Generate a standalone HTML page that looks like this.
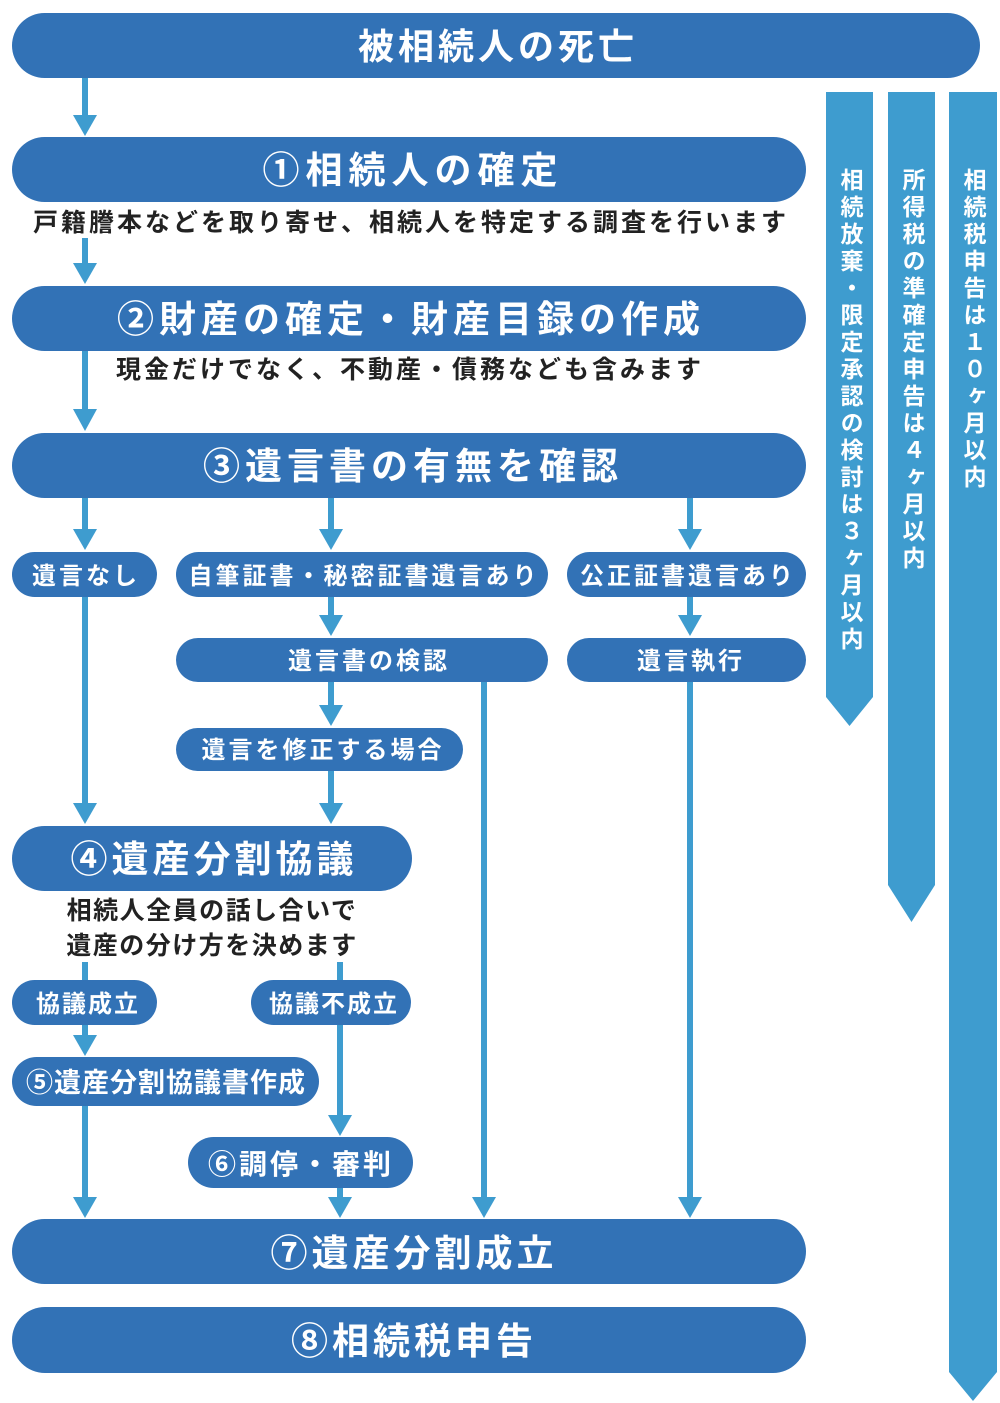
<!DOCTYPE html>
<html><head><meta charset="utf-8"><style>
html,body{margin:0;padding:0;background:#fff}
body{width:1000px;height:1403px;position:relative;overflow:hidden;font-family:"Liberation Sans","Noto Sans CJK JP",sans-serif}
svg{position:absolute;left:0;top:0}
.v{position:absolute;writing-mode:vertical-rl;color:#fff;font-weight:bold;font-size:23px;letter-spacing:4px;font-family:"Liberation Sans","Noto Sans CJK JP",sans-serif;width:48px;display:flex;align-items:center}
</style></head><body>
<svg width="1000" height="1403" viewBox="0 0 1000 1403" font-family="Liberation Sans, Noto Sans CJK JP, sans-serif" font-weight="bold">
<g fill="#3e9ccf">
<rect x="826" y="92" width="47" height="605"/><polygon points="826,697 873,697 849.5,726"/>
<rect x="888" y="92" width="47" height="793"/><polygon points="888,885 935,885 911.5,922"/>
<rect x="949" y="92" width="48" height="1280"/><polygon points="949,1372 997,1372 973,1401"/>
</g>
<g stroke="#3e9ccf" stroke-width="6">
<line x1="85" y1="78" x2="85" y2="118"/>
<line x1="85" y1="238" x2="85" y2="266"/>
<line x1="85" y1="351" x2="85" y2="412"/>
<line x1="85" y1="498" x2="85" y2="532"/>
<line x1="85" y1="597" x2="85" y2="806"/>
<line x1="85" y1="962" x2="85" y2="982"/>
<line x1="85" y1="1025" x2="85" y2="1038"/>
<line x1="85" y1="1106" x2="85" y2="1200"/>
<line x1="331" y1="498" x2="331" y2="532"/>
<line x1="331" y1="597" x2="331" y2="618"/>
<line x1="331" y1="682" x2="331" y2="708"/>
<line x1="331" y1="771" x2="331" y2="806"/>
<line x1="690" y1="498" x2="690" y2="532"/>
<line x1="690" y1="597" x2="690" y2="618"/>
<line x1="690" y1="682" x2="690" y2="1200"/>
<line x1="484" y1="682" x2="484" y2="1200"/>
<line x1="340" y1="962" x2="340" y2="982"/>
<line x1="340" y1="1025" x2="340" y2="1118"/>
<line x1="340" y1="1188" x2="340" y2="1200"/>
</g>
<g fill="#3e9ccf">
<polygon points="73,115 97,115 85,136"/>
<polygon points="73,263 97,263 85,284"/>
<polygon points="73,409 97,409 85,431"/>
<polygon points="73,529 97,529 85,550"/>
<polygon points="73,803 97,803 85,824"/>
<polygon points="73,1035 97,1035 85,1056"/>
<polygon points="73,1197 97,1197 85,1218"/>
<polygon points="319,529 343,529 331,550"/>
<polygon points="319,615 343,615 331,636"/>
<polygon points="319,705 343,705 331,726"/>
<polygon points="319,803 343,803 331,824"/>
<polygon points="678,529 702,529 690,550"/>
<polygon points="678,615 702,615 690,636"/>
<polygon points="678,1197 702,1197 690,1218"/>
<polygon points="472,1197 496,1197 484,1218"/>
<polygon points="328,1115 352,1115 340,1136"/>
<polygon points="328,1197 352,1197 340,1218"/>
</g>
<g fill="#3272b6">
<rect x="12" y="13" width="968" height="65" rx="32.5"/>
<rect x="12" y="137" width="794" height="65" rx="32.5"/>
<rect x="12" y="286" width="794" height="65" rx="32.5"/>
<rect x="12" y="433" width="794" height="65" rx="32.5"/>
<rect x="12" y="552" width="145" height="45" rx="22.5"/>
<rect x="176" y="552" width="372" height="45" rx="22.5"/>
<rect x="567" y="552" width="239" height="45" rx="22.5"/>
<rect x="176" y="638" width="372" height="44" rx="22"/>
<rect x="567" y="638" width="239" height="44" rx="22"/>
<rect x="176" y="728" width="287" height="43" rx="21.5"/>
<rect x="12" y="826" width="400" height="65" rx="32.5"/>
<rect x="12" y="980" width="145" height="45" rx="22.5"/>
<rect x="251" y="980" width="160" height="45" rx="22.5"/>
<rect x="12" y="1057" width="307" height="49" rx="24.5"/>
<rect x="188" y="1137" width="225" height="51" rx="25.5"/>
<rect x="12" y="1219" width="794" height="65" rx="32.5"/>
<rect x="12" y="1307" width="794" height="66" rx="33"/>
</g>
<g fill="#fff" text-anchor="middle">
<text x="498" y="59" font-size="36" letter-spacing="4">被相続人の死亡</text>
<text x="413" y="183" font-size="37" letter-spacing="6">①相続人の確定</text>
<text x="411" y="332" font-size="37" letter-spacing="5">②財産の確定・財産目録の作成</text>
<text x="413" y="479" font-size="37" letter-spacing="5">③遺言書の有無を確認</text>
<text x="86" y="584" font-size="24" letter-spacing="3">遺言なし</text>
<text x="364" y="584" font-size="24" letter-spacing="3">自筆証書・秘密証書遺言あり</text>
<text x="688" y="584" font-size="24" letter-spacing="3">公正証書遺言あり</text>
<text x="369" y="669" font-size="24" letter-spacing="3">遺言書の検認</text>
<text x="691" y="669" font-size="24" letter-spacing="3">遺言執行</text>
<text x="323" y="758" font-size="24" letter-spacing="3">遺言を修正する場合</text>
<text x="214" y="872" font-size="37" letter-spacing="4">④遺産分割協議</text>
<text x="88" y="1012" font-size="24" letter-spacing="2">協議成立</text>
<text x="334" y="1012" font-size="24" letter-spacing="2">協議不成立</text>
<text x="166" y="1092" font-size="27" letter-spacing="1">⑤遺産分割協議書作成</text>
<text x="301" y="1174" font-size="28" letter-spacing="3">⑥調停・審判</text>
<text x="414" y="1266" font-size="37" letter-spacing="4">⑦遺産分割成立</text>
<text x="414" y="1354" font-size="37" letter-spacing="4">⑧相続税申告</text>
</g>
<g fill="#222" font-size="25" text-anchor="middle">
<text x="411" y="231" letter-spacing="3">戸籍謄本などを取り寄せ、相続人を特定する調査を行います</text>
<text x="410" y="378" letter-spacing="3">現金だけでなく、不動産・債務なども含みます</text>
<text x="212" y="919" letter-spacing="1.5">相続人全員の話し合いで</text>
<text x="212" y="954" letter-spacing="1.5">遺産の分け方を決めます</text>
</g>
</svg>
<div class="v" style="left:826px;top:168px">相続放棄・限定承認の検討は３ヶ月以内</div>
<div class="v" style="left:888px;top:168px">所得税の準確定申告は４ヶ月以内</div>
<div class="v" style="left:949px;top:168px">相続税申告は１０ヶ月以内</div>
</body></html>
